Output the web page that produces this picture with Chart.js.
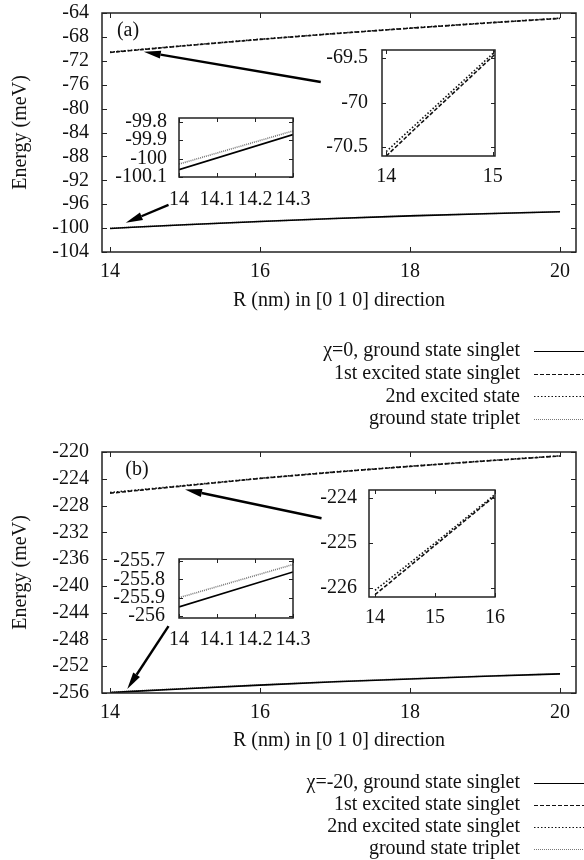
<!DOCTYPE html>
<html>
<head>
<meta charset="utf-8">
<title>Energy vs R</title>
<script src="https://cdn.jsdelivr.net/npm/chart.js@4.4.1/dist/chart.umd.min.js"></script>
<style>
  html, body { margin: 0; padding: 0; background: #fff; }
  body { position: relative; width: 584px; height: 860px; overflow: hidden; }
  canvas { position: absolute; }
</style>
</head>
<body>
<canvas id="mainA"></canvas>
<canvas id="zoomA1"></canvas>
<canvas id="zoomA2"></canvas>
<canvas id="mainB"></canvas>
<canvas id="zoomB1"></canvas>
<canvas id="zoomB2"></canvas>
<script>
/* R grid (nm), shared by every curve */
const R = [14, 14.3, 15, 16, 17, 18, 19, 20];

/* chi = 0, energies in meV */
const gsSingletA = [-100.06, -99.87, -99.45, -98.90, -98.40, -97.95, -97.60, -97.27];
const exc1A      = [-70.60, -70.26, -69.48, -68.42, -67.45, -66.55, -65.70, -64.90];
const exc2A      = [-70.55, -70.22, -69.45, -68.39, -67.42, -66.52, -65.67, -64.87];
const gsTripletA = [-100.03, -99.85, -99.43, -98.88, -98.38, -97.93, -97.58, -97.25];

/* chi = -20, energies in meV */
const gsSingletB = [-255.95, -255.76, -255.36, -254.82, -254.33, -253.90, -253.50, -253.15];
const exc1B      = [-226.15, -225.82, -225.05, -223.95, -223.00, -222.15, -221.35, -220.60];
const exc2B      = [-226.05, -225.74, -225.00, -223.92, -222.97, -222.12, -221.32, -220.57];
const gsTripletB = [-255.90, -255.72, -255.32, -254.79, -254.30, -253.87, -253.47, -253.12];

const labelsA = ['\u03C7=0, ground state singlet', '1st excited state singlet', '2nd excited state', 'ground state triplet'];
const labelsB = ['\u03C7=-20, ground state singlet', '1st excited state singlet', '2nd excited state singlet', 'ground state triplet'];

/* tick labels */
const ticksMainX  = [14, 16, 18, 20];
const ticksMainYA = [-64, -68, -72, -76, -80, -84, -88, -92, -96, -100, -104];
const ticksMainYB = [-220, -224, -228, -232, -236, -240, -244, -248, -252, -256];
const ticksFineX  = [14, 14.1, 14.2, 14.3];
const ticksFineYA = [-99.8, -99.9, -100, -100.1];
const ticksFineYB = [-255.7, -255.8, -255.9, -256];
const ticksWideXA = [14, 15];
const ticksWideYA = [-69.5, -70, -70.5];
const ticksWideXB = [14, 15, 16];
const ticksWideYB = [-224, -225, -226];

/* arrows [tailR, tailE, headR, headE] */
const arrowsA = [[16.81, -75.55, 14.45, -70.48], [14.78, -96.13, 14.21, -99.11]];
const arrowsB = [[16.82, -229.9, 15.0, -225.6], [14.78, -246.0, 14.23, -255.4]];

Chart.defaults.font.family = '"Liberation Serif", "Times New Roman", serif';
Chart.defaults.font.size = 20;
Chart.defaults.color = '#111';

const FONT = '20px "Liberation Serif", "Times New Roman", serif';

const LINE_STYLES = [
    { borderColor: '#000', borderDash: [] },
    { borderColor: '#111', borderDash: [4, 2] },
    { borderColor: '#111', borderDash: [1.5, 2] },
    { borderColor: '#777', borderDash: [1, 1] }
];

function curves(series, labels) {
    return series.map((vals, i) => Object.assign({
        label: labels[i],
        data: R.map((r, k) => ({ x: r, y: vals[k] })),
        borderWidth: 1.6,
        pointRadius: 0,
        tension: 0,
        fill: false
    }, LINE_STYLES[i]));
}

/* gnuplot-like frame with inward ticks on all four sides */
const frameTicks = {
    id: 'frameTicks',
    afterDraw(chart, args, o) {
        const { ctx, chartArea: a, scales: { x, y } } = chart;
        const len = o.len || 5;
        ctx.save();
        ctx.strokeStyle = '#222';
        ctx.lineWidth = 1;
        ctx.beginPath();
        x.ticks.forEach(t => {
            const px = Math.round(x.getPixelForValue(t.value)) + 0.5;
            ctx.moveTo(px, a.bottom); ctx.lineTo(px, a.bottom - len);
            ctx.moveTo(px, a.top); ctx.lineTo(px, a.top + len);
        });
        y.ticks.forEach(t => {
            const py = Math.round(y.getPixelForValue(t.value)) + 0.5;
            ctx.moveTo(a.left, py); ctx.lineTo(a.left + len, py);
            ctx.moveTo(a.right, py); ctx.lineTo(a.right - len, py);
        });
        ctx.stroke();
        ctx.lineWidth = 1.5;
        ctx.strokeRect(a.left, a.top, a.right - a.left, a.bottom - a.top);
        ctx.restore();
    }
};

/* arrows and the panel tag, placed in data units */
const pointers = {
    id: 'pointers',
    afterDatasetsDraw(chart, args, o) {
        if (!o.list) return;
        const { ctx, scales: { x, y } } = chart;
        ctx.save();
        ctx.fillStyle = '#000';
        ctx.strokeStyle = '#000';
        ctx.lineWidth = 2.4;
        o.list.forEach(([x0, y0, x1, y1]) => {
            const ax = x.getPixelForValue(x0), ay = y.getPixelForValue(y0);
            const bx = x.getPixelForValue(x1), by = y.getPixelForValue(y1);
            const ang = Math.atan2(by - ay, bx - ax);
            const hl = 17, hw = 4;
            const ex = bx - hl * Math.cos(ang), ey = by - hl * Math.sin(ang);
            ctx.beginPath();
            ctx.moveTo(ax, ay);
            ctx.lineTo(ex, ey);
            ctx.stroke();
            ctx.beginPath();
            ctx.moveTo(bx, by);
            ctx.lineTo(ex + hw * Math.sin(ang), ey - hw * Math.cos(ang));
            ctx.lineTo(ex - hw * Math.sin(ang), ey + hw * Math.cos(ang));
            ctx.closePath();
            ctx.fill();
        });
        if (o.tag) {
            ctx.font = FONT;
            ctx.fillStyle = '#111';
            ctx.textAlign = 'center';
            ctx.textBaseline = 'middle';
            ctx.fillText(o.tag.text, x.getPixelForValue(o.tag.x), y.getPixelForValue(o.tag.y));
        }
        ctx.restore();
    }
};

/* key below each panel: text right-aligned, line sample to the right */
const keyRows = {
    id: 'keyRows',
    afterDraw(chart, args, o) {
        if (!o.rows) return;
        const ctx = chart.ctx;
        ctx.save();
        ctx.font = FONT;
        ctx.textAlign = 'right';
        ctx.textBaseline = 'middle';
        o.rows.forEach((di, i) => {
            const ds = chart.data.datasets[di];
            const ty = o.y + i * o.step;
            ctx.fillStyle = '#111';
            ctx.fillText(ds.label, o.x, ty);
            ctx.strokeStyle = ds.borderColor;
            ctx.lineWidth = 1;
            ctx.setLineDash(ds.borderDash);
            ctx.beginPath();
            ctx.moveTo(o.x + 14, Math.round(ty) + 0.5);
            ctx.lineTo(chart.width, Math.round(ty) + 0.5);
            ctx.stroke();
        });
        ctx.restore();
    }
};

function plot(id, box, frame, o) {
    const cv = document.getElementById(id);
    cv.width = box.w;
    cv.height = box.h;
    cv.style.left = box.x + 'px';
    cv.style.top = box.y + 'px';

    const left = frame.l - box.x;
    const top = frame.t - box.y;
    const right = box.x + box.w - frame.r;
    const bottom = box.y + box.h - frame.b;

    const xTitle = o.xTitle
        ? { display: true, text: o.xTitle.text, padding: { top: 0, bottom: box.y + box.h - o.xTitle.y - 12 } }
        : { display: false };
    const yTitle = o.yTitle
        ? { display: true, text: o.yTitle.text, padding: { top: o.yTitle.x - box.x - 12, bottom: 0 } }
        : { display: false };

    return new Chart(cv.getContext('2d'), {
        type: 'line',
        data: { datasets: o.datasets },
        options: {
            responsive: false,
            animation: false,
            layout: { autoPadding: false, padding: { left: 0, top: top, right: right, bottom: 0 } },
            plugins: {
                legend: { display: false },
                tooltip: { enabled: false },
                frameTicks: { len: o.tickLen },
                pointers: { list: o.arrows, tag: o.tag },
                keyRows: o.key || {}
            },
            scales: {
                x: {
                    type: 'linear',
                    min: o.xMin,
                    max: o.xMax,
                    grid: { display: false, drawTicks: false },
                    border: { display: false },
                    ticks: { padding: o.xPad, maxRotation: 0, minRotation: 0, autoSkip: false, callback: v => String(v) },
                    title: xTitle,
                    afterBuildTicks: s => { s.ticks = o.xTicks.map(v => ({ value: v })); },
                    afterFit: s => { s.height = bottom; s.paddingLeft = 0; s.paddingRight = 0; }
                },
                y: {
                    type: 'linear',
                    min: o.yMin,
                    max: o.yMax,
                    grid: { display: false, drawTicks: false },
                    border: { display: false },
                    ticks: { padding: o.yPad, autoSkip: false, callback: v => String(v) },
                    title: yTitle,
                    afterBuildTicks: s => { s.ticks = o.yTicks.map(v => ({ value: v })); },
                    afterFit: s => { s.width = left; s.paddingTop = 0; s.paddingBottom = 0; }
                }
            }
        },
        plugins: [frameTicks, pointers, keyRows]
    });
}

/* (a) chi = 0 */
plot('mainA', { x: 0, y: 0, w: 584, h: 439 }, { l: 102, t: 13, r: 576, b: 252 }, {
    datasets: curves([gsSingletA, exc1A, exc2A, gsTripletA], labelsA),
    xMin: 13.893, xMax: 20.213, xTicks: ticksMainX, xPad: 8,
    yMin: -104, yMax: -64, yTicks: ticksMainYA, yPad: 13,
    tickLen: 5,
    xTitle: { text: 'R (nm) in [0 1 0] direction', y: 301 },
    yTitle: { text: 'Energy (meV)', x: 21 },
    arrows: arrowsA,
    tag: { text: '(a)', x: 14.24, y: -67.0 },
    key: { rows: [0, 1, 2, 3], x: 520, y: 351, step: 22.7 }
});
plot('zoomA1', { x: 100, y: 100, w: 215, h: 115 }, { l: 179, t: 118, r: 293, b: 177 }, {
    datasets: curves([gsSingletA, exc1A, exc2A, gsTripletA], labelsA),
    xMin: 14, xMax: 14.3, xTicks: ticksFineX, xPad: 11,
    yMin: -100.1, yMax: -99.78, yTicks: ticksFineYA, yPad: 12,
    tickLen: 4
});
plot('zoomA2', { x: 310, y: 38, w: 205, h: 155 }, { l: 382, t: 50, r: 495, b: 156 }, {
    datasets: curves([gsSingletA, exc1A, exc2A, gsTripletA], labelsA),
    xMin: 13.96, xMax: 15.02, xTicks: ticksWideXA, xPad: 9,
    yMin: -70.6, yMax: -69.41, yTicks: ticksWideYA, yPad: 14,
    tickLen: 4
});

/* (b) chi = -20 */
plot('mainB', { x: 0, y: 439, w: 584, h: 421 }, { l: 102, t: 452, r: 576, b: 693 }, {
    datasets: curves([gsSingletB, exc1B, exc2B, gsTripletB], labelsB),
    xMin: 13.893, xMax: 20.213, xTicks: ticksMainX, xPad: 8,
    yMin: -256, yMax: -220, yTicks: ticksMainYB, yPad: 13,
    tickLen: 5,
    xTitle: { text: 'R (nm) in [0 1 0] direction', y: 741 },
    yTitle: { text: 'Energy (meV)', x: 21 },
    arrows: arrowsB,
    tag: { text: '(b)', x: 14.36, y: -222.7 },
    key: { rows: [0, 1, 2, 3], x: 520, y: 783 - 439, step: 22 }
});
plot('zoomB1', { x: 100, y: 545, w: 215, h: 110 }, { l: 179, t: 559, r: 293, b: 618 }, {
    datasets: curves([gsSingletB, exc1B, exc2B, gsTripletB], labelsB),
    xMin: 14, xMax: 14.3, xTicks: ticksFineX, xPad: 10,
    yMin: -256.01, yMax: -255.69, yTicks: ticksFineYB, yPad: 14,
    tickLen: 4
});
plot('zoomB2', { x: 290, y: 478, w: 225, h: 155 }, { l: 369, t: 490, r: 495, b: 597 }, {
    datasets: curves([gsSingletB, exc1B, exc2B, gsTripletB], labelsB),
    xMin: 13.9, xMax: 16.0, xTicks: ticksWideXB, xPad: 9,
    yMin: -226.2, yMax: -223.82, yTicks: ticksWideYB, yPad: 12,
    tickLen: 4
});
</script>
</body>
</html>
